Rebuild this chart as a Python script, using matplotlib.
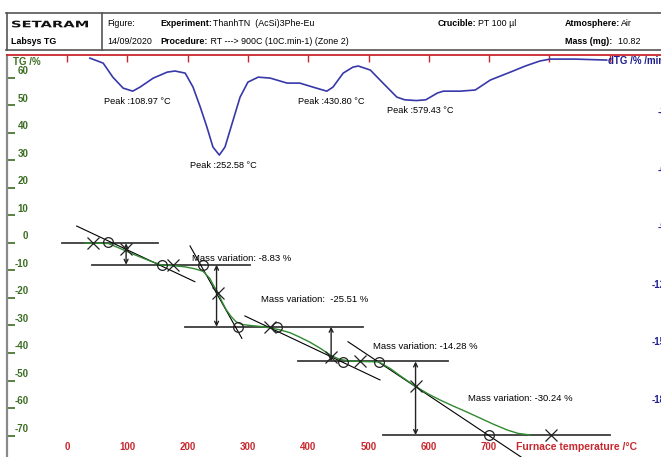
#热重分析 TG / dTG 曲线
import numpy as np
import matplotlib
matplotlib.use('Agg')
import matplotlib.pyplot as plt
from matplotlib.lines import Line2D
from matplotlib.textpath import TextPath
from matplotlib.patches import PathPatch
from matplotlib.font_manager import FontProperties
from matplotlib.transforms import Affine2D

plt.rcParams['font.family'] = ['Liberation Sans', 'DejaVu Sans']

#dTG 曲线 (温度 °C, %/min)
dtg_temp = [38, 60, 76, 93, 108.97, 121, 143, 166, 179, 196, 209, 221, 232, 242, 252.58,
            262, 274, 287, 300, 317, 337, 365, 386, 408, 430.80, 441, 458, 474, 483, 503,
            524, 547, 560, 579.43, 595, 614, 624, 652, 677, 702, 735, 760, 784, 801, 843, 895]
dtg_val = [-0.19, -0.45, -1.18, -1.75, -1.91, -1.70, -1.23, -0.92, -0.86, -0.97, -1.70, -2.74, -3.78, -4.82, -5.24,
           -4.82, -3.57, -2.22, -1.44, -1.18, -1.23, -1.49, -1.49, -1.70, -1.91, -1.70, -0.97, -0.66, -0.60, -0.81,
           -1.49, -2.22, -2.36, -2.40, -2.36, -2.01, -1.91, -1.91, -1.85, -1.33, -0.92, -0.60, -0.34, -0.24, -0.24, -0.29]
peak_temp = [108.97, 252.58, 430.80, 579.43]
peak_dtg = [-1.91, -5.24, -1.91, -2.40]

#TG 曲线 (相对质量变化 %)
tg_temp = [30, 55, 68.5, 88, 113, 138, 157.5, 176, 196, 212, 225.5, 237, 244, 251, 257, 264, 272, 280, 290,
           303.5, 320, 337, 353, 370, 386, 403, 420, 438, 453, 469, 486, 502, 517, 536, 552, 577, 599,
           619, 640, 663, 685, 706, 730, 748, 768]
tg_mass = [0.1, 0, -0.1, -2.1, -4.8, -7.3, -9.0, -9.2, -9.7, -10.5, -11.5, -14.5, -17.8, -20.5, -24.0, -27.3, -30.1, -32.2, -33.4,
           -33.8, -34.2, -34.8, -35.6, -36.8, -38.6, -40.7, -43.2, -46.2, -47.8, -48.4, -48.6, -48.7, -48.8, -51.5, -54.4, -58.7, -62.0,
           -64.5, -66.9, -69.4, -71.9, -74.3, -76.8, -78.2, -78.86]

#各阶段质量变化
mass_var = [-8.83, -25.51, -14.28, -30.24]
levels = np.concatenate([[0.0], np.cumsum(mass_var)])
level_span = [(-8, 151), (41, 304), (196, 491), (383, 632), (524, 900)]
step_temp = [98, 248, 438, 578]
tangent_temp = [(16, 212), (204, 290), (295, 519), (466, 768)]
tangent_mass = [(7.1, -15.8), (-1.1, -39.1), (-29.9, -56.2), (-40.5, -90.4)]
cross_temp = [43.6, 97.8, 176.3, 250.9, 336.6, 437.8, 485.9, 578.3, 802.7]
cross_mass = [0, -2.5, -8.8, -20.6, -34.4, -46.6, -48.6, -58.9, -78.86]
ring_temp = [68.5, 157.0, 226.0, 284.1, 347.8, 458.2, 517.4, 699]
ring_mass = [0.4, -8.9, -8.9, -34.5, -34.4, -48.7, -48.7, -78.86]
var_label_pos = [(207, -6.2), (321, -23.2), (507, -42.5), (665, -64.0)]

tg_ticks = list(range(-70, 70, 10))
dtg_ticks = [-3, -6, -9, -12, -15, -18]
temp_ticks = list(range(0, 800, 100))

RED = '#c8282d'
GREEN = '#3b6d22'
NAVY = '#1f1f8f'
W, H = 661, 457
top = 54.5

fig = plt.figure(figsize=(W / 100, H / 100), dpi=100)
ax = fig.add_axes([7 / W, 0, 1 - 7 / W, (H - top) / H])
ax.set_xlim(-99.5, 985)
ax.set_ylim(-77.8, 68.5)
for s in ['right', 'bottom']:
    ax.spines[s].set_visible(False)
ax.spines['left'].set_color('#8a8a8a')
ax.spines['left'].set_linewidth(1.6)
ax.spines['top'].set_color(RED)
ax.spines['top'].set_linewidth(1.3)
ax.xaxis.tick_top()
ax.set_xticks(range(0, 1000, 100))
ax.tick_params(axis='x', direction='in', length=5, width=1, color=RED, labeltop=False)
ax.set_yticks(tg_ticks)
ax.tick_params(axis='y', direction='in', length=6, width=1.2, color=GREEN, labelleft=False)

ytr = ax.get_yaxis_transform()
for v in tg_ticks:
    ax.text(0.0325, v + 2.5, str(v), transform=ytr, ha='right', va='center',
            color=GREEN, fontsize=7, fontweight='bold')
ax.text(0.009, 0.982, 'TG /%', transform=ax.transAxes, ha='left', va='center',
        color=GREEN, fontsize=7, fontweight='bold')
xtr = ax.get_xaxis_transform()
for t in temp_ticks:
    ax.text(t, 0.025, str(t), transform=xtr, ha='center', va='center',
            color=RED, fontsize=7, fontweight='bold')
ax.text(745, 0.025, 'Furnace temperature /°C', transform=xtr, ha='left', va='center',
        color=RED, fontsize=7.5, fontweight='bold')

#dTG 坐标
axd = ax.twinx()
axd.set_ylim(-20.97, 0.0)
axd.set_yticks([])
for s in axd.spines.values():
    s.set_visible(False)
axd.plot(dtg_temp, dtg_val, color='#3838aa', lw=1.2)
for t, d in zip(peak_temp, peak_dtg):
    axd.annotate('Peak :%.2f °C' % t, (t, d), xytext=(-29, -10), textcoords='offset pixels',
                 ha='left', va='center', fontsize=6.6)
dtr = axd.get_yaxis_transform()
for v in dtg_ticks:
    axd.text(1.0076, v, str(v), transform=dtr, ha='right', va='center', clip_on=False,
             color=NAVY, fontsize=7, fontweight='bold')

#TG 坐标
axm = ax.twinx()
axm.set_ylim(-87.91, 77.66)
axm.set_yticks([])
for s in axm.spines.values():
    s.set_visible(False)
for lv, (a, b) in zip(levels, level_span):
    axm.plot([a, b], [lv, lv], color='#3c3c3c', lw=1.3)
for tt, mm in zip(tangent_temp, tangent_mass):
    axm.plot(tt, mm, color='black', lw=0.8)
axm.plot(tg_temp, tg_mass, color='#2f8a2f', lw=1)
for i, t in enumerate(step_temp):
    axm.annotate('', xy=(t, levels[i + 1]), xytext=(t, levels[i]),
                 arrowprops=dict(arrowstyle='<->', color='#222222', lw=1,
                                 shrinkA=0, shrinkB=0, mutation_scale=7))
axm.plot(cross_temp, cross_mass, 'x', ms=8, mew=0.9, color='#222222')
axm.plot(ring_temp, ring_mass, 'o', ms=7, mfc='none', mec='#222222', mew=0.9)
for (t, m), v in zip(var_label_pos, mass_var):
    gap = '  ' if v < -20 and v > -30 else ' '
    axm.text(t, m, 'Mass variation:%s%.2f %%' % (gap, v), ha='left', va='center', fontsize=6.8)

#表头
def hline(x0, x1, y, **kw):
    fig.add_artist(Line2D([x0 / W, x1 / W], [1 - y / H, 1 - y / H], transform=fig.transFigure, **kw))

def vline(x, y0, y1, **kw):
    fig.add_artist(Line2D([x / W, x / W], [1 - y0 / H, 1 - y1 / H], transform=fig.transFigure, **kw))

hline(6, W, 13.3, color='#555555', lw=1.2)
hline(6, W, 50, color='#555555', lw=1.2)
vline(6.5, 13.3, 50, color='#555555', lw=1.2)
vline(102, 13.3, 50, color='#555555', lw=1.2)

fp = FontProperties(family='DejaVu Sans', weight='bold')
tp = TextPath((0, 0), 'SETARAM', size=10, prop=fp)
bb = tp.get_extents()
logo = Affine2D().translate(-bb.x0, 0).scale(76 / bb.width, 6.8 / bb.height).translate(12, H - 27.3)
fig.add_artist(PathPatch(tp, transform=logo, color='#111111', lw=0))

renderer = fig.canvas.get_renderer()


def htext(x, y, s, **kw):
    return fig.text(x / W, 1 - y / H, s, ha='left', va='center', fontsize=6.4, **kw)


def pair(x, y, key, val, gap=1):
    #粗体字段名后接数值
    t = htext(x, y, key, fontweight='bold')
    x1 = t.get_window_extent(renderer).x1
    htext(x1 + gap, y, val)


htext(11, 41, 'Labsys TG', fontweight='bold')
htext(107, 23, 'Figure:')
htext(107, 41, '14/09/2020')
pair(160, 23, 'Experiment:', 'ThanhTN  (AcSi)3Phe-Eu')
pair(160, 41, 'Procedure:', ' RT ---> 900C (10C.min-1) (Zone 2)')
pair(438, 23, 'Crucible:', 'PT 100 µl')
pair(565, 23, 'Atmosphere:', 'Air')
pair(565, 41, 'Mass (mg):', '  10.82')
fig.text(608 / W, 1 - 61 / H, 'dTG /% /min', ha='left', va='center', fontsize=7,
         fontweight='bold', color=NAVY)

fig.savefig('out.png', dpi=100)
